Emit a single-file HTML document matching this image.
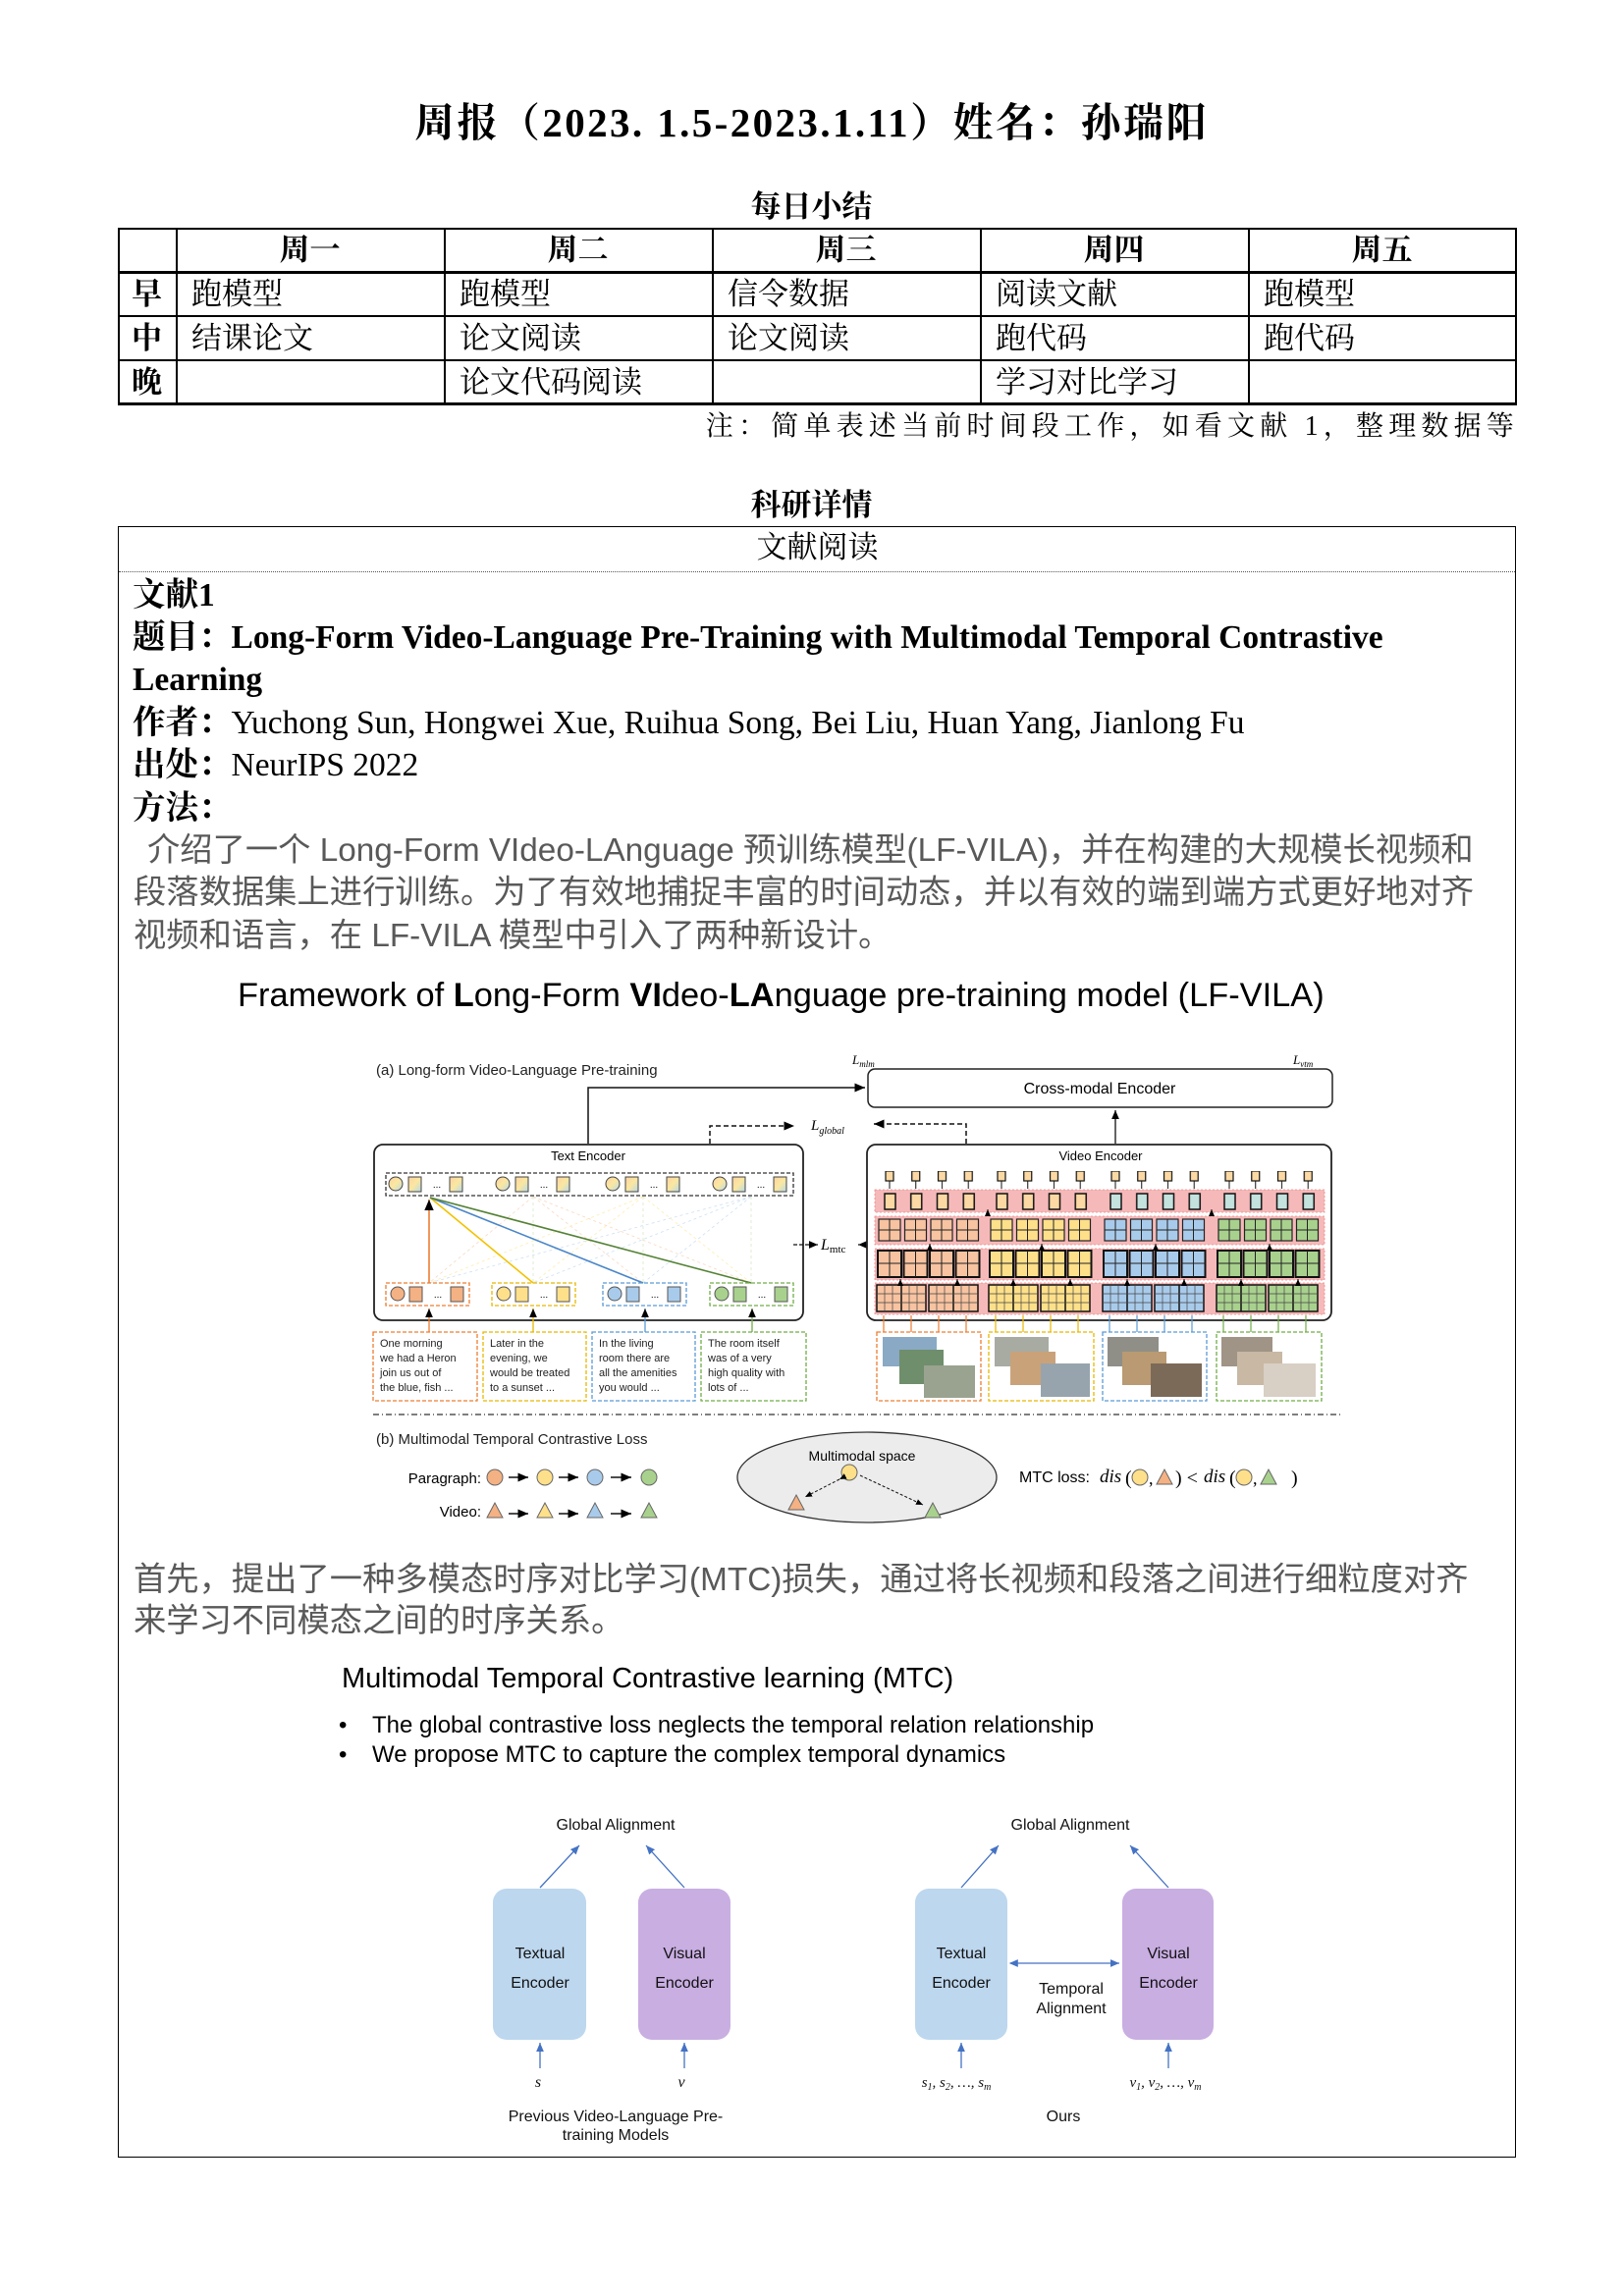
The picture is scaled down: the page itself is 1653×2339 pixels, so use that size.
<!DOCTYPE html>
<html><head><meta charset="utf-8"><style>
body{margin:0;background:#fff}
#pg{position:relative;width:1653px;height:2339px;overflow:hidden;background:#fff;font-family:"Liberation Serif","Noto Serif CJK SC",serif;color:#000}
.a{position:absolute;white-space:nowrap}
.c{text-align:center}
.hl{position:absolute;background:#000}
.sans{font-family:"Liberation Sans","Noto Sans CJK SC",sans-serif}
</style></head><body><div id="pg">
<div class="a c" style="left:0;width:1653px;top:100px;font-size:41px;line-height:50px;font-weight:bold;letter-spacing:2.4px">周报（2023. 1.5-2023.1.11）姓名：孙瑞阳</div>
<div class="a c" style="left:0;width:1653px;top:193px;font-size:31px;line-height:36px;font-weight:bold">每日小结</div>

<div class="hl" style="left:120px;top:232px;width:1425px;height:2px"></div>
<div class="hl" style="left:120px;top:276px;width:1425px;height:3px"></div>
<div class="hl" style="left:120px;top:321px;width:1425px;height:2px"></div>
<div class="hl" style="left:120px;top:366px;width:1425px;height:2px"></div>
<div class="hl" style="left:120px;top:410px;width:1425px;height:3px"></div>
<div class="hl" style="left:120px;top:232px;width:2px;height:181px"></div>
<div class="hl" style="left:179px;top:232px;width:2px;height:181px"></div>
<div class="hl" style="left:452px;top:232px;width:2px;height:181px"></div>
<div class="hl" style="left:725px;top:232px;width:2px;height:181px"></div>
<div class="hl" style="left:998px;top:232px;width:2px;height:181px"></div>
<div class="hl" style="left:1271px;top:232px;width:2px;height:181px"></div>
<div class="hl" style="left:1543px;top:232px;width:2px;height:181px"></div>
<div style="font-size:31px;line-height:36px">
<div class="a c" style="left:179px;width:273px;top:237px;font-weight:bold">周一</div>
<div class="a c" style="left:452px;width:273px;top:237px;font-weight:bold">周二</div>
<div class="a c" style="left:725px;width:273px;top:237px;font-weight:bold">周三</div>
<div class="a c" style="left:998px;width:273px;top:237px;font-weight:bold">周四</div>
<div class="a c" style="left:1271px;width:273px;top:237px;font-weight:bold">周五</div>
<div class="a c" style="left:120px;width:59px;top:282px;font-weight:bold">早</div>
<div class="a c" style="left:120px;width:59px;top:327px;font-weight:bold">中</div>
<div class="a c" style="left:120px;width:59px;top:372px;font-weight:bold">晚</div>
<div class="a" style="left:195px;top:282px">跑模型</div>
<div class="a" style="left:468px;top:282px">跑模型</div>
<div class="a" style="left:741px;top:282px">信令数据</div>
<div class="a" style="left:1014px;top:282px">阅读文献</div>
<div class="a" style="left:1287px;top:282px">跑模型</div>
<div class="a" style="left:195px;top:327px">结课论文</div>
<div class="a" style="left:468px;top:327px">论文阅读</div>
<div class="a" style="left:741px;top:327px">论文阅读</div>
<div class="a" style="left:1014px;top:327px">跑代码</div>
<div class="a" style="left:1287px;top:327px">跑代码</div>
<div class="a" style="left:468px;top:372px">论文代码阅读</div>
<div class="a" style="left:1014px;top:372px">学习对比学习</div>
</div>
<div class="a" style="right:106px;top:418px;font-size:28px;line-height:34px;letter-spacing:5.2px">注：简单表述当前时间段工作，如看文献 1，整理数据等</div>

<div class="a c" style="left:0;width:1653px;top:497px;font-size:31px;line-height:36px;font-weight:bold">科研详情</div>
<div style="position:absolute;left:120px;top:536px;width:1422px;height:1660px;border:1.5px solid #000"></div>
<div class="a c" style="left:120px;width:1425px;top:540px;font-size:31px;line-height:36px">文献阅读</div>
<div style="position:absolute;left:121px;top:582px;width:1422px;border-top:1.5px dotted #555"></div>

<div style="font-size:33.5px;line-height:38px">
<div class="a" style="left:135px;top:588px;font-weight:bold">文献1</div>
<div class="a" style="left:135px;top:631px;font-weight:bold">题目：Long-Form Video-Language Pre-Training with Multimodal Temporal Contrastive</div>
<div class="a" style="left:135px;top:674px;font-weight:bold">Learning</div>
<div class="a" style="left:135px;top:718px"><b>作者：</b>Yuchong Sun, Hongwei Xue, Ruihua Song, Bei Liu, Huan Yang, Jianlong Fu</div>
<div class="a" style="left:135px;top:761px"><b>出处：</b>NeurIPS 2022</div>
<div class="a" style="left:135px;top:805px;font-weight:bold">方法：</div>
</div>
<div class="sans" style="color:#595959;font-size:33.3px;line-height:38px">
<div class="a" style="left:150px;top:848px">介绍了一个 Long-Form VIdeo-LAnguage 预训练模型(LF-VILA)，并在构建的大规模长视频和</div>
<div class="a" style="left:136px;top:891px">段落数据集上进行训练。为了有效地捕捉丰富的时间动态，并以有效的端到端方式更好地对齐</div>
<div class="a" style="left:136px;top:935px">视频和语言，在 LF-VILA 模型中引入了两种新设计。</div>
<div class="a" style="left:136px;top:1591px">首先，提出了一种多模态时序对比学习(MTC)损失，通过将长视频和段落之间进行细粒度对齐</div>
<div class="a" style="left:136px;top:1633px">来学习不同模态之间的时序关系。</div>
</div>
<div class="a sans" style="left:242px;top:995px;font-size:34.4px;line-height:38px">Framework of <b>L</b>ong-Form <b>VI</b>deo-<b>LA</b>nguage pre-training model (LF-VILA)</div>

<div class="a sans" style="left:348px;top:1693px;font-size:29px;line-height:34px">Multimodal Temporal Contrastive learning (MTC)</div>
<div class="a sans" style="left:345px;top:1744px;font-size:24px;line-height:28px">•</div>
<div class="a sans" style="left:379px;top:1744px;font-size:24px;line-height:28px">The global contrastive loss neglects the temporal relation relationship</div>
<div class="a sans" style="left:345px;top:1774px;font-size:24px;line-height:28px">•</div>
<div class="a sans" style="left:379px;top:1774px;font-size:24px;line-height:28px">We propose MTC to capture the complex temporal dynamics</div>

<svg width="1653" height="2339" style="position:absolute;left:0;top:0" font-family="Liberation Sans, sans-serif">
<defs>
<marker id="ar" markerWidth="8" markerHeight="8" refX="7" refY="4" orient="auto"><path d="M0,1 L7,4 L0,7z" fill="#000"/></marker>
<marker id="ab" markerWidth="8" markerHeight="8" refX="7" refY="4" orient="auto"><path d="M0,1 L7,4 L0,7z" fill="#4472c4"/></marker>
<marker id="abs" markerWidth="8" markerHeight="8" refX="1" refY="4" orient="auto"><path d="M7,1 L0,4 L7,7z" fill="#4472c4"/></marker>
<pattern id="r2o" patternUnits="objectBoundingBox" width="0.25" height="1"><rect x="2" y="1" width="22" height="22" fill="#f7c3a0" stroke="#222" stroke-width="1.2"/><path d="M13,1v22M2,12h22" stroke="#222"/></pattern>
<pattern id="r2y" patternUnits="objectBoundingBox" width="0.25" height="1"><rect x="2" y="1" width="22" height="22" fill="#ffe08a" stroke="#222" stroke-width="1.2"/><path d="M13,1v22M2,12h22" stroke="#222"/></pattern>
<pattern id="r2b" patternUnits="objectBoundingBox" width="0.25" height="1"><rect x="2" y="1" width="22" height="22" fill="#a9cbeb" stroke="#222" stroke-width="1.2"/><path d="M13,1v22M2,12h22" stroke="#222"/></pattern>
<pattern id="r2g" patternUnits="objectBoundingBox" width="0.25" height="1"><rect x="2" y="1" width="22" height="22" fill="#a9d18e" stroke="#222" stroke-width="1.2"/><path d="M13,1v22M2,12h22" stroke="#222"/></pattern>
<pattern id="r3o" patternUnits="objectBoundingBox" width="0.25" height="1"><rect x="1" y="1" width="24" height="27" fill="#f7c3a0" stroke="#111" stroke-width="2"/><path d="M13,1v27M1,14h24" stroke="#222"/></pattern>
<pattern id="r3y" patternUnits="objectBoundingBox" width="0.25" height="1"><rect x="1" y="1" width="24" height="27" fill="#ffe08a" stroke="#111" stroke-width="2"/><path d="M13,1v27M1,14h24" stroke="#222"/></pattern>
<pattern id="r3b" patternUnits="objectBoundingBox" width="0.25" height="1"><rect x="1" y="1" width="24" height="27" fill="#a9cbeb" stroke="#111" stroke-width="2"/><path d="M13,1v27M1,14h24" stroke="#222"/></pattern>
<pattern id="r3g" patternUnits="objectBoundingBox" width="0.25" height="1"><rect x="1" y="1" width="24" height="27" fill="#a9d18e" stroke="#111" stroke-width="2"/><path d="M13,1v27M1,14h24" stroke="#222"/></pattern>
<pattern id="r4o" patternUnits="objectBoundingBox" width="0.5" height="1"><rect x="1" y="1" width="50" height="27" fill="#f7c3a0" stroke="#111" stroke-width="1.5"/><path d="M26,1v27" stroke="#111" stroke-width="1.5"/><path d="M9,1v27M17,1v27M34,1v27M42,1v27M1,10h50M1,19h50" stroke="#444" stroke-width=".7"/></pattern>
<pattern id="r4y" patternUnits="objectBoundingBox" width="0.5" height="1"><rect x="1" y="1" width="50" height="27" fill="#ffe08a" stroke="#111" stroke-width="1.5"/><path d="M26,1v27" stroke="#111" stroke-width="1.5"/><path d="M9,1v27M17,1v27M34,1v27M42,1v27M1,10h50M1,19h50" stroke="#444" stroke-width=".7"/></pattern>
<pattern id="r4b" patternUnits="objectBoundingBox" width="0.5" height="1"><rect x="1" y="1" width="50" height="27" fill="#a9cbeb" stroke="#111" stroke-width="1.5"/><path d="M26,1v27" stroke="#111" stroke-width="1.5"/><path d="M9,1v27M17,1v27M34,1v27M42,1v27M1,10h50M1,19h50" stroke="#444" stroke-width=".7"/></pattern>
<pattern id="r4g" patternUnits="objectBoundingBox" width="0.5" height="1"><rect x="1" y="1" width="50" height="27" fill="#a9d18e" stroke="#111" stroke-width="1.5"/><path d="M26,1v27" stroke="#111" stroke-width="1.5"/><path d="M9,1v27M17,1v27M34,1v27M42,1v27M1,10h50M1,19h50" stroke="#444" stroke-width=".7"/></pattern>
<pattern id="r1a" patternUnits="objectBoundingBox" width="0.25" height="1"><rect x="8" y="2" width="11" height="16" fill="#fcd9a4" stroke="#111" stroke-width="1.5"/></pattern>
<pattern id="r1b" patternUnits="objectBoundingBox" width="0.25" height="1"><rect x="8" y="2" width="11" height="16" fill="#c4e2de" stroke="#111" stroke-width="1.5"/></pattern>
<pattern id="r0" patternUnits="objectBoundingBox" width="0.25" height="1"><rect x="9" y="0" width="8" height="10" fill="#fcd9a4" stroke="#111" stroke-width="1.2"/><path d="M13,10v8" stroke="#111"/></pattern>
<linearGradient id="gr" x1="0" y1="0" x2="1" y2="1"><stop offset="0" stop-color="#fbd3a5"/><stop offset="0.5" stop-color="#fbe7a0"/><stop offset="1" stop-color="#b7d9e8"/></linearGradient>
</defs>

<text x="383" y="1095" font-size="15" fill="#222">(a) Long-form Video-Language Pre-training</text>
<text x="868" y="1084" font-size="13" font-style="italic" font-family="Liberation Serif">L<tspan font-size="9" dy="3">mlm</tspan></text>
<text x="1317" y="1084" font-size="13" font-style="italic" font-family="Liberation Serif">L<tspan font-size="9" dy="3">vtm</tspan></text>
<rect x="884" y="1089" width="473" height="39" rx="7" fill="#fff" stroke="#222" stroke-width="1.5"/>
<text x="1120" y="1114" font-size="16" text-anchor="middle">Cross-modal Encoder</text>
<path d="M599,1165 V1108 H881" stroke="#111" stroke-width="1.5" fill="none" marker-end="url(#ar)"/>
<path d="M1136,1165 V1131" stroke="#111" stroke-width="1.3" fill="none" marker-end="url(#ar)"/>
<path d="M723,1165 V1147 H809" stroke="#111" stroke-width="1.5" stroke-dasharray="5,3" fill="none" marker-end="url(#ar)"/>
<path d="M984,1165 V1145 H890" stroke="#111" stroke-width="1.5" stroke-dasharray="5,3" fill="none" marker-end="url(#ar)"/>
<text x="826" y="1151" font-size="15" font-style="italic" font-family="Liberation Serif">L<tspan font-size="10" dy="4">global</tspan></text>

<rect x="381" y="1166" width="437" height="179" rx="9" fill="#fff" stroke="#222" stroke-width="1.8"/>
<text x="599" y="1182" font-size="13" text-anchor="middle">Text Encoder</text>
<rect x="393" y="1195" width="415" height="23" fill="none" stroke="#333" stroke-width="1.3" stroke-dasharray="4,2"/>
<g fill="url(#gr)" stroke="#444" stroke-width="1">
<circle cx="403" cy="1206" r="7"/><rect x="416" y="1199" width="13" height="15"/><rect x="458" y="1199" width="13" height="15"/>
<circle cx="512" cy="1206" r="7"/><rect x="525" y="1199" width="13" height="15"/><rect x="567" y="1199" width="13" height="15"/>
<circle cx="624" cy="1206" r="7"/><rect x="637" y="1199" width="13" height="15"/><rect x="679" y="1199" width="13" height="15"/>
<circle cx="733" cy="1206" r="7"/><rect x="746" y="1199" width="13" height="15"/><rect x="788" y="1199" width="13" height="15"/>
</g>
<g font-size="10" text-anchor="middle"><text x="445" y="1210">...</text><text x="554" y="1210">...</text><text x="666" y="1210">...</text><text x="775" y="1210">...</text></g>
<g stroke-width=".8" stroke-dasharray="3,3" opacity=".5">
<path d="M543,1219 L437,1307 M543,1219 L655,1307 M543,1219 L765,1307" stroke="#f4b183"/>
<path d="M655,1219 L437,1307 M655,1219 L543,1307 M655,1219 L765,1307" stroke="#ffd966"/>
<path d="M765,1219 L437,1307 M765,1219 L543,1307 M765,1219 L655,1307" stroke="#9dc3e6"/>
<path d="M543,1219 V1307 M655,1219 V1307 M765,1219 V1307" stroke="#a9d18e"/>
</g>
<path d="M437,1307 V1222" stroke="#ed7d31" stroke-width="1.6" marker-end="url(#ar)"/>
<path d="M543,1307 L438,1220" stroke="#f2c200" stroke-width="1.6"/>
<path d="M655,1307 L438,1220" stroke="#4a86c8" stroke-width="1.6"/>
<path d="M765,1307 L438,1220" stroke="#548235" stroke-width="1.6"/>
<g stroke-width="1.3" stroke-dasharray="4,2" fill="none">
<rect x="393" y="1307" width="85" height="23" stroke="#ed7d31"/><rect x="501" y="1307" width="85" height="23" stroke="#e8b800"/>
<rect x="614" y="1307" width="85" height="23" stroke="#5b9bd5"/><rect x="723" y="1307" width="85" height="23" stroke="#70ad47"/>
</g>
<g stroke="#555" stroke-width="1">
<g fill="#f4b183"><circle cx="405" cy="1318" r="7"/><rect x="417" y="1311" width="13" height="15"/><rect x="459" y="1311" width="13" height="15"/></g>
<g fill="#ffe08a"><circle cx="513" cy="1318" r="7"/><rect x="525" y="1311" width="13" height="15"/><rect x="567" y="1311" width="13" height="15"/></g>
<g fill="#a9cbeb"><circle cx="626" cy="1318" r="7"/><rect x="638" y="1311" width="13" height="15"/><rect x="680" y="1311" width="13" height="15"/></g>
<g fill="#a9d18e"><circle cx="735" cy="1318" r="7"/><rect x="747" y="1311" width="13" height="15"/><rect x="789" y="1311" width="13" height="15"/></g>
</g>
<g font-size="10" text-anchor="middle"><text x="446" y="1322">...</text><text x="554" y="1322">...</text><text x="667" y="1322">...</text><text x="776" y="1322">...</text></g>
<path d="M437,1357 V1333" stroke="#ed7d31" stroke-width="1.3" marker-end="url(#ar)"/>
<path d="M543,1357 V1333" stroke="#e8b800" stroke-width="1.3" marker-end="url(#ar)"/>
<path d="M657,1357 V1333" stroke="#5b9bd5" stroke-width="1.3" marker-end="url(#ar)"/>
<path d="M766,1357 V1333" stroke="#70ad47" stroke-width="1.3" marker-end="url(#ar)"/>
<g stroke-width="1.3" stroke-dasharray="4,2" fill="none">
<rect x="380" y="1357" width="106" height="70" stroke="#ed7d31"/><rect x="492" y="1357" width="105" height="70" stroke="#e8b800"/>
<rect x="603" y="1357" width="105" height="70" stroke="#5b9bd5"/><rect x="714" y="1357" width="107" height="70" stroke="#70ad47"/>
</g>
<g font-size="11" fill="#222" xml:space="preserve">
<text x="387" y="1372">One       morning</text><text x="387" y="1387">we had a Heron</text><text x="387" y="1402">join  us  out  of</text><text x="387" y="1417">the blue, fish ...</text>
<text x="499" y="1372">Later    in    the</text><text x="499" y="1387">evening,       we</text><text x="499" y="1402">would be treated</text><text x="499" y="1417">to a sunset ...</text>
<text x="610" y="1372">In   the    living</text><text x="610" y="1387">room there are</text><text x="610" y="1402">all the amenities</text><text x="610" y="1417">you would ...</text>
<text x="721" y="1372">The room itself</text><text x="721" y="1387">was  of  a  very</text><text x="721" y="1402">high quality with</text><text x="721" y="1417">lots of ...</text>
</g>
<text x="836" y="1273" font-size="16" font-style="italic" font-family="Liberation Serif">L<tspan font-size="11" dy="3" font-style="normal">mtc</tspan></text>
<path d="M808,1268 H833" stroke="#111" stroke-width="1.3" stroke-dasharray="4,2" marker-end="url(#ar)"/>
<path d="M885,1268 H874" stroke="#111" stroke-width="1.3" stroke-dasharray="3,2" marker-end="url(#ar)"/>

<rect x="883" y="1166" width="473" height="179" rx="9" fill="#fff" stroke="#222" stroke-width="1.8"/>
<text x="1121" y="1182" font-size="13" text-anchor="middle">Video Encoder</text>
<g fill="#f6b9b9" stroke="#e88" stroke-width=".8" stroke-dasharray="2,2">
<rect x="891" y="1212" width="458" height="23"/><rect x="891" y="1239" width="458" height="29"/>
<rect x="891" y="1272" width="458" height="32"/><rect x="891" y="1307" width="458" height="32"/>
</g>
<rect x="893" y="1193" width="107" height="18" fill="url(#r0)"/><rect x="1007" y="1193" width="107" height="18" fill="url(#r0)"/>
<rect x="1123" y="1193" width="107" height="18" fill="url(#r0)"/><rect x="1239" y="1193" width="107" height="18" fill="url(#r0)"/>
<rect x="893" y="1214" width="107" height="20" fill="url(#r1a)"/><rect x="1007" y="1214" width="107" height="20" fill="url(#r1a)"/>
<rect x="1123" y="1214" width="107" height="20" fill="url(#r1b)"/><rect x="1239" y="1214" width="107" height="20" fill="url(#r1b)"/>
<rect x="893" y="1241" width="106" height="25" fill="url(#r2o)"/><rect x="1007" y="1241" width="106" height="25" fill="url(#r2y)"/>
<rect x="1123" y="1241" width="106" height="25" fill="url(#r2b)"/><rect x="1239" y="1241" width="106" height="25" fill="url(#r2g)"/>
<rect x="893" y="1273" width="106" height="30" fill="url(#r3o)"/><rect x="1007" y="1273" width="106" height="30" fill="url(#r3y)"/>
<rect x="1123" y="1273" width="106" height="30" fill="url(#r3b)"/><rect x="1239" y="1273" width="106" height="30" fill="url(#r3g)"/>
<rect x="892" y="1308" width="106" height="30" fill="url(#r4o)"/><rect x="1006" y="1308" width="106" height="30" fill="url(#r4y)"/>
<rect x="1122" y="1308" width="106" height="30" fill="url(#r4b)"/><rect x="1238" y="1308" width="106" height="30" fill="url(#r4g)"/>
<g stroke="#111" stroke-width="1" marker-end="url(#ar)">
<path d="M1006,1239 V1232"/><path d="M1234,1239 V1232"/><path d="M947,1273 V1267"/><path d="M1061,1273 V1267"/><path d="M1177,1273 V1267"/><path d="M1293,1273 V1267"/>
<path d="M917,1308 V1303"/><path d="M975,1308 V1303"/><path d="M1032,1308 V1303"/><path d="M1090,1308 V1303"/><path d="M1148,1308 V1303"/><path d="M1206,1308 V1303"/><path d="M1264,1308 V1303"/><path d="M1322,1308 V1303"/>
</g>
<g stroke-width="1.3" stroke-dasharray="4,2" fill="none">
<rect x="893" y="1357" width="106" height="70" stroke="#ed7d31"/><rect x="1007" y="1357" width="107" height="70" stroke="#e8b800"/>
<rect x="1123" y="1357" width="106" height="70" stroke="#5b9bd5"/><rect x="1239" y="1357" width="107" height="70" stroke="#70ad47"/>
</g>
<g>
<rect x="899" y="1362" width="55" height="30" fill="#8aa9c4"/><rect x="916" y="1375" width="45" height="35" fill="#6f8e6c"/><rect x="941" y="1391" width="52" height="33" fill="#9aa38f"/>
<rect x="1013" y="1362" width="55" height="30" fill="#a8aba2"/><rect x="1029" y="1377" width="46" height="34" fill="#c9a27a"/><rect x="1060" y="1389" width="50" height="34" fill="#97a4ad"/>
<rect x="1128" y="1362" width="52" height="30" fill="#8f8f88"/><rect x="1143" y="1377" width="45" height="34" fill="#b99a72"/><rect x="1172" y="1389" width="52" height="34" fill="#7c6a58"/>
<rect x="1244" y="1362" width="52" height="30" fill="#a09487"/><rect x="1260" y="1377" width="46" height="34" fill="#c8b8a4"/><rect x="1287" y="1389" width="53" height="34" fill="#d8cfc5"/>
</g>
<g stroke-width="1.2">
<path d="M900,1357 V1340 M928,1357 V1340 M956,1357 V1340 M984,1357 V1340" stroke="#ed7d31"/>
<path d="M1014,1357 V1340 M1042,1357 V1340 M1070,1357 V1340 M1098,1357 V1340" stroke="#e8b800"/>
<path d="M1130,1357 V1340 M1158,1357 V1340 M1186,1357 V1340 M1214,1357 V1340" stroke="#5b9bd5"/>
<path d="M1246,1357 V1340 M1274,1357 V1340 M1302,1357 V1340 M1330,1357 V1340" stroke="#70ad47"/>
</g>
<path d="M380,1441 H1368" stroke="#333" stroke-width="1.2" stroke-dasharray="6,3,1,3"/>
<text x="383" y="1471" font-size="15" fill="#222">(b) Multimodal Temporal Contrastive Loss</text>
<text x="490" y="1511" font-size="15" text-anchor="end">Paragraph:</text>
<text x="490" y="1545" font-size="15" text-anchor="end">Video:</text>
<g stroke="#666" stroke-width="1">
<circle cx="504" cy="1505" r="8" fill="#f4b183"/><circle cx="555" cy="1505" r="8" fill="#ffe08a"/><circle cx="606" cy="1505" r="8" fill="#a9cbeb"/><circle cx="661" cy="1505" r="8" fill="#a9d18e"/>
<path d="M504,1531 l-8,15 h16z" fill="#f4b183"/><path d="M555,1531 l-8,15 h16z" fill="#ffe08a"/><path d="M606,1531 l-8,15 h16z" fill="#a9cbeb"/><path d="M661,1531 l-8,15 h16z" fill="#a9d18e"/>
</g>
<g stroke="#111" stroke-width="1.5" marker-end="url(#ar)">
<path d="M518,1505 H538"/><path d="M569,1505 H589"/><path d="M622,1505 H643"/>
<path d="M518,1542 H538"/><path d="M569,1542 H589"/><path d="M622,1542 H643"/>
</g>
<ellipse cx="883" cy="1505" rx="132" ry="46" fill="#ececec" stroke="#333" stroke-width="1.3"/>
<text x="878" y="1488" font-size="14" text-anchor="middle">Multimodal space</text>
<circle cx="865" cy="1500" r="8" fill="#ffe08a" stroke="#666"/>
<path d="M811,1523 l-8,15 h16z" fill="#f4b183" stroke="#666"/>
<path d="M950,1531 l-8,15 h16z" fill="#a9d18e" stroke="#666"/>
<path d="M855,1507 L820,1525" stroke="#111" stroke-dasharray="3,2" marker-end="url(#ar)" marker-start="url(#ar)"/>
<path d="M876,1503 L940,1533" stroke="#111" stroke-dasharray="3,2" marker-end="url(#ar)"/>
<text x="1038" y="1510" font-size="16">MTC loss:</text>
<text x="1120" y="1510" font-size="19" font-family="Liberation Serif" font-style="italic">dis</text>
<text x="1146" y="1512" font-size="20" font-family="Liberation Serif">(</text>
<circle cx="1161" cy="1505" r="8" fill="#ffe08a" stroke="#666"/>
<text x="1170" y="1512" font-size="18" font-family="Liberation Serif">,</text>
<path d="M1186,1497 l-8,15 h16z" fill="#f4b183" stroke="#666"/>
<text x="1197" y="1512" font-size="20" font-family="Liberation Serif">) &lt;</text>
<text x="1226" y="1510" font-size="19" font-family="Liberation Serif" font-style="italic">dis</text>
<text x="1252" y="1512" font-size="20" font-family="Liberation Serif">(</text>
<circle cx="1267" cy="1505" r="8" fill="#ffe08a" stroke="#666"/>
<text x="1276" y="1512" font-size="18" font-family="Liberation Serif">,</text>
<path d="M1292,1497 l-8,15 h16z" fill="#a9d18e" stroke="#666"/>
<text x="1315" y="1512" font-size="20" font-family="Liberation Serif">)</text>

<g font-size="16" text-anchor="middle" fill="#111">
<text x="627" y="1864">Global Alignment</text><text x="1090" y="1864">Global Alignment</text>
<rect x="502" y="1924" width="95" height="154" rx="14" fill="#bdd7ee"/>
<rect x="650" y="1924" width="94" height="154" rx="14" fill="#c9aee2"/>
<rect x="932" y="1924" width="94" height="154" rx="14" fill="#bdd7ee"/>
<rect x="1143" y="1924" width="93" height="154" rx="14" fill="#c9aee2"/>
<text x="550" y="1995">Textual</text><text x="550" y="2025">Encoder</text>
<text x="697" y="1995">Visual</text><text x="697" y="2025">Encoder</text>
<text x="979" y="1995">Textual</text><text x="979" y="2025">Encoder</text>
<text x="1190" y="1995">Visual</text><text x="1190" y="2025">Encoder</text>
<text x="1091" y="2031">Temporal</text><text x="1091" y="2051">Alignment</text>
<text x="627" y="2161">Previous Video-Language Pre-</text><text x="627" y="2180">training Models</text>
<text x="1083" y="2161">Ours</text>
<text x="548" y="2126" font-family="Liberation Serif" font-style="italic">s</text>
<text x="694" y="2126" font-family="Liberation Serif" font-style="italic">v</text>
<text x="974" y="2126" font-family="Liberation Serif" font-style="italic" font-size="15">s<tspan font-size="10" dy="3">1</tspan><tspan dy="-3">, s</tspan><tspan font-size="10" dy="3">2</tspan><tspan dy="-3">, …, s</tspan><tspan font-size="10" dy="3">m</tspan></text>
<text x="1187" y="2126" font-family="Liberation Serif" font-style="italic" font-size="15">v<tspan font-size="10" dy="3">1</tspan><tspan dy="-3">, v</tspan><tspan font-size="10" dy="3">2</tspan><tspan dy="-3">, …, v</tspan><tspan font-size="10" dy="3">m</tspan></text>
</g>
<g stroke="#4472c4" stroke-width="1.3" marker-end="url(#ab)">
<path d="M550,1923 L590,1880"/><path d="M697,1923 L658,1880"/>
<path d="M979,1923 L1017,1880"/><path d="M1190,1923 L1151,1880"/>
<path d="M550,2107 V2081"/><path d="M697,2107 V2081"/><path d="M979,2107 V2081"/><path d="M1190,2107 V2081"/>
<path d="M1029,2000 H1140" marker-start="url(#abs)"/>
</g>
</svg>
</div></body></html>
